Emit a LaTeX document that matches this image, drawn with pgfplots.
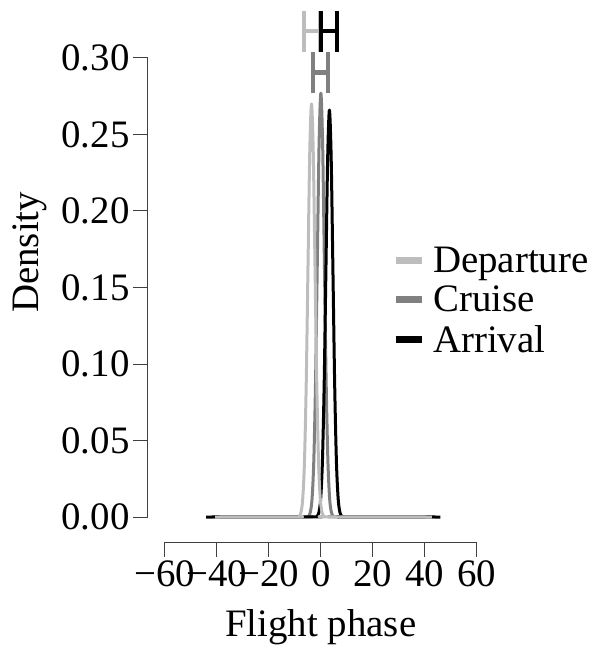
\documentclass[border=0pt]{standalone}
\usepackage{fontspec}
\setmainfont{Liberation Serif}
\usepackage{pgfplots}
\pgfplotsset{compat=1.18}
\definecolor{dep}{gray}{0.74}
\definecolor{cru}{gray}{0.5}
\definecolor{arr}{gray}{0}
\begin{document}
\begin{tikzpicture}
\begin{axis}[
  scale only axis, width=311.7bp, height=459bp,
  xmin=-60, xmax=60, ymin=0, ymax=0.3,
  clip=false,
  axis x line*=bottom, axis y line*=left,
  axis x line shift=25bp, axis y line shift=17bp,
  x axis line style={-}, y axis line style={-},
  axis line style={black!75, line width=1bp},
  tick style={black!75, line width=1bp},
  tick align=outside, major tick length=15bp,
  xtick={-60,-40,-20,0,20,40,60},
  xticklabels={−60,−40,−20,0,20,40,60},
  ytick={0,0.05,0.1,0.15,0.2,0.25,0.3},
  yticklabels={0.00,0.05,0.10,0.15,0.20,0.25,0.30},
  ticklabel style={font=\fontsize{39}{42}\selectfont},
  xlabel={Flight phase}, ylabel={Density},
  label style={font=\fontsize{39}{42}\selectfont},
  xlabel style={at={(axis cs:0,-0.0778)}, anchor=base},
  ylabel style={at={(axis cs:-111.9,0.173)}, anchor=center, rotate=0},
  legend image code/.code={\draw[line width=7bp] (0bp,0bp) -- (26bp,0bp);},
  legend style={at={(axis cs:27.4,0.1777)}, anchor=north west, draw=none, fill=none,
    font=\fontsize{39}{42}\selectfont, row sep=8bp, column sep=6bp, inner sep=0bp},
  legend cell align=left,
  every axis plot/.append style={line width=3bp, line join=round},
]
% Cruise
\addplot[cru, smooth, tension=0.5, forget plot] coordinates {
(-42,0) (-5.4,0.0001) (-4.725,0.0006) (-4.05,0.0031) (-3.375,0.0122) (-2.7,0.0375)
(-2.025,0.0899) (-1.35,0.1680) (-0.675,0.2445) (0,0.277) (0.675,0.2445) (1.35,0.1680)
(2.025,0.0899) (2.7,0.0375) (3.375,0.0122) (4.05,0.0031) (4.725,0.0006) (5.4,0.0001) (44,0)};
% Arrival
\addplot[arr, smooth, tension=0.5, forget plot] coordinates {
(-44.2,0) (-2.1,0.0001) (-1.425,0.0006) (-0.75,0.0030) (-0.075,0.0117) (0.6,0.0360)
(1.275,0.0864) (1.95,0.1613) (2.625,0.2347) (3.3,0.266) (3.975,0.2347) (4.65,0.1613)
(5.325,0.0864) (6.0,0.0360) (6.675,0.0117) (7.35,0.0030) (8.025,0.0006) (8.7,0.0001) (46,0)};
% Departure
\addplot[dep, smooth, tension=0.5, forget plot] coordinates {
(-40.7,0) (-9.0,0.0001) (-8.325,0.0006) (-7.65,0.0030) (-6.975,0.0119) (-6.3,0.0365)
(-5.625,0.0877) (-4.95,0.1638) (-4.275,0.2383) (-3.6,0.270) (-2.925,0.2383) (-2.25,0.1638)
(-1.575,0.0877) (-0.9,0.0365) (-0.225,0.0119) (0.45,0.0030) (1.125,0.0006) (1.8,0.0001) (42.7,0)};
% interval markers
\addplot[dep, line width=4.5bp, line cap=butt, forget plot, unbounded coords=jump] coordinates {
(-6.4,0.304) (-6.4,0.331) (nan,nan) (-0.2,0.304) (-0.2,0.331) (nan,nan) (-6.4,0.3175) (-0.2,0.3175)};
\addplot[arr, line width=4.5bp, line cap=butt, forget plot, unbounded coords=jump] coordinates {
(0,0.304) (0,0.331) (nan,nan) (6.2,0.304) (6.2,0.331) (nan,nan) (0,0.3175) (6.2,0.3175)};
\addplot[cru, line width=4.5bp, line cap=butt, forget plot, unbounded coords=jump] coordinates {
(-2.95,0.277) (-2.95,0.304) (nan,nan) (2.7,0.277) (2.7,0.304) (nan,nan) (-2.95,0.2905) (2.7,0.2905)};
\addlegendimage{dep}\addlegendentry{Departure}
\addlegendimage{cru}\addlegendentry{Cruise}
\addlegendimage{arr}\addlegendentry{Arrival}
\node[anchor=base east, inner sep=0pt, font=\bfseries\fontsize{39}{42}\selectfont] at (axis cs:121.0,0.3485) {Distribution of flight phase};
\end{axis}
\pgfresetboundingbox
\useasboundingbox (-165bp,-137bp) rectangle (427bp,517bp);
\end{tikzpicture}
\end{document}
